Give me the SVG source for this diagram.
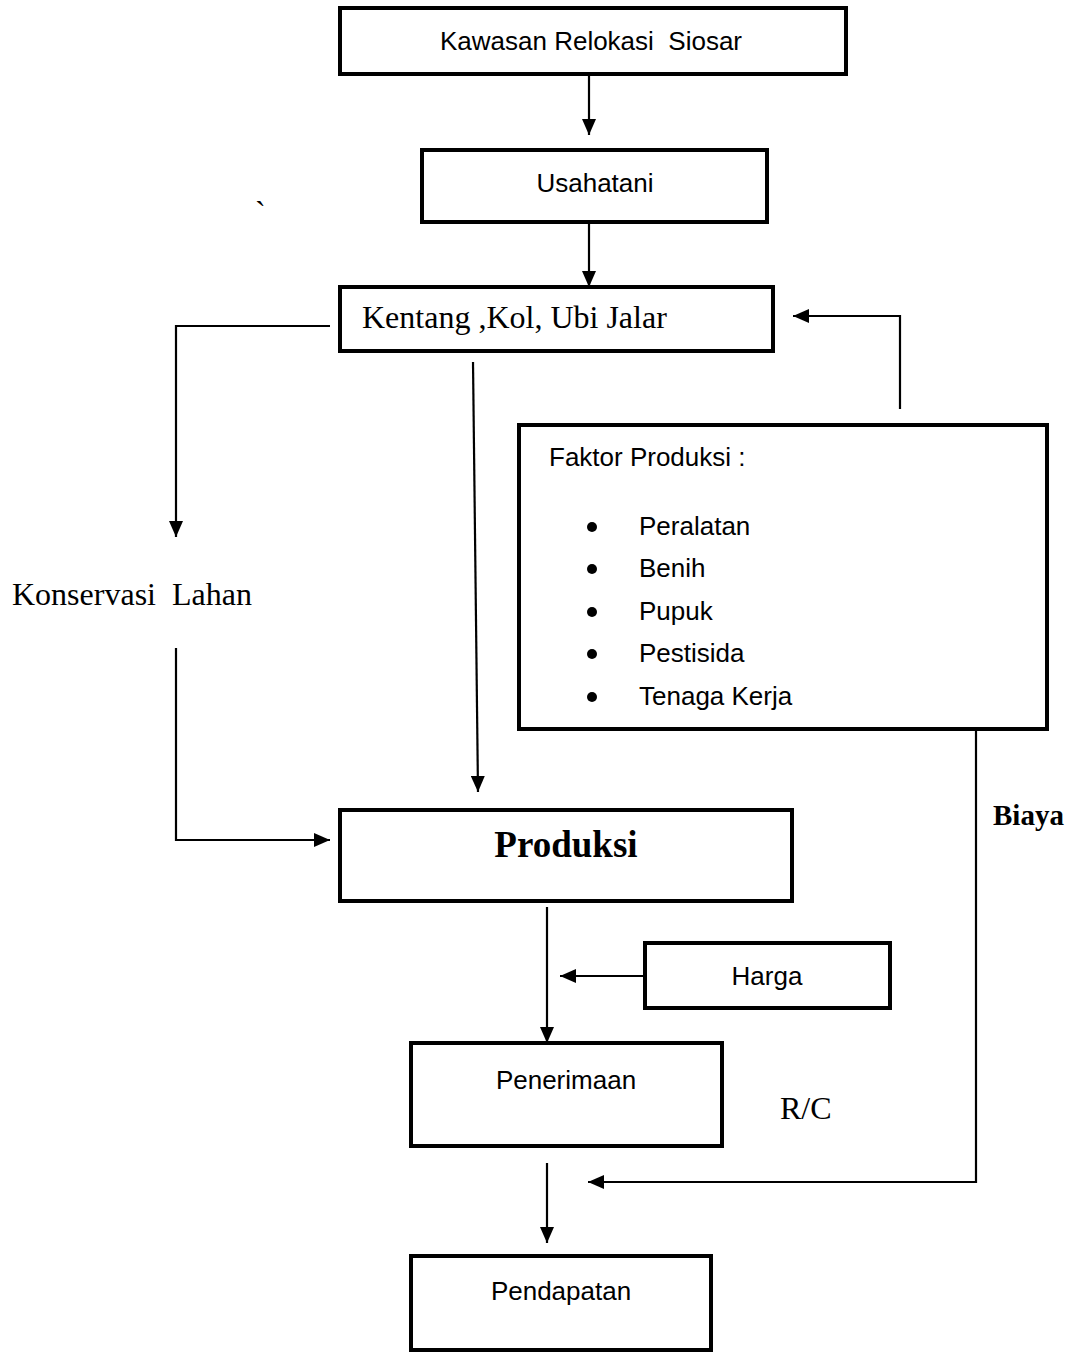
<svg xmlns="http://www.w3.org/2000/svg" width="1074" height="1352" viewBox="0 0 1074 1352">
<style>
.box{fill:#fff;stroke:#000;stroke-width:4;}
.con{fill:none;stroke:#000;stroke-width:2.2;}
.sans{font-family:"Liberation Sans",Arial,sans-serif;font-size:26px;fill:#000;white-space:pre;}
.serif{font-family:"Liberation Serif","Times New Roman",serif;font-size:32px;fill:#000;white-space:pre;}
.bold{font-family:"Liberation Serif","Times New Roman",serif;font-weight:bold;fill:#000;}
</style>
<defs>
<marker id="ah" viewBox="0 0 16 14" refX="16" refY="7" markerWidth="16" markerHeight="14" markerUnits="userSpaceOnUse" orient="auto">
<path d="M0,0 L16,7 L0,14 z" fill="#000"/>
</marker>
</defs>
<rect width="1074" height="1352" fill="#fff"/>
<g id="connectors">
<path class="con" d="M589,74 V135" marker-end="url(#ah)"/>
<path class="con" d="M589,222 V287" marker-end="url(#ah)"/>
<path class="con" d="M330,326 H176 V537" marker-end="url(#ah)"/>
<path class="con" d="M176,648 V840 H330" marker-end="url(#ah)"/>
<path class="con" d="M473,362 L478,792" marker-end="url(#ah)"/>
<path class="con" d="M900,409 V316 H793" marker-end="url(#ah)"/>
<path class="con" d="M547,907 V1043" marker-end="url(#ah)"/>
<path class="con" d="M645,976 H560" marker-end="url(#ah)"/>
<path class="con" d="M547,1163 V1243" marker-end="url(#ah)"/>
<path class="con" d="M976,729 V1182 H588" marker-end="url(#ah)"/>
</g>
<g id="kawasan">
<rect class="box" x="340" y="8" width="506" height="66"/>
<text class="sans" x="591" y="50" text-anchor="middle" xml:space="preserve">Kawasan Relokasi  Siosar</text>
</g>
<g id="usahatani">
<rect class="box" x="422" y="150" width="345" height="72"/>
<text class="sans" x="595" y="192" text-anchor="middle">Usahatani</text>
</g>
<text class="serif" x="255" y="223" font-size="20">`</text>
<g id="kentang">
<rect class="box" x="340" y="287" width="433" height="64"/>
<text class="serif" x="362" y="328">Kentang ,Kol, Ubi Jalar</text>
</g>
<g id="konservasi">
<text class="serif" x="12" y="605" xml:space="preserve">Konservasi  Lahan</text>
</g>
<g id="faktor">
<rect class="box" x="519" y="425" width="528" height="304"/>
<text class="sans" x="549" y="466" font-size="25">Faktor Produksi :</text>
<circle cx="592" cy="527" r="5"/>
<circle cx="592" cy="569" r="5"/>
<circle cx="592" cy="612" r="5"/>
<circle cx="592" cy="654" r="5"/>
<circle cx="592" cy="697" r="5"/>
<text class="sans" x="639" y="535">Peralatan</text>
<text class="sans" x="639" y="577">Benih</text>
<text class="sans" x="639" y="620">Pupuk</text>
<text class="sans" x="639" y="662">Pestisida</text>
<text class="sans" x="639" y="705">Tenaga Kerja</text>
</g>
<g id="biaya">
<text class="bold" x="993" y="825" font-size="29">Biaya</text>
</g>
<g id="produksi">
<rect class="box" x="340" y="810" width="452" height="91"/>
<text class="bold" x="566" y="857" font-size="37" text-anchor="middle">Produksi</text>
</g>
<g id="harga">
<rect class="box" x="645" y="943" width="245" height="65"/>
<text class="sans" x="767" y="985" text-anchor="middle">Harga</text>
</g>
<g id="penerimaan">
<rect class="box" x="411" y="1043" width="311" height="103"/>
<text class="sans" x="566" y="1089" text-anchor="middle">Penerimaan</text>
</g>
<g id="rc">
<text class="serif" x="780" y="1119" font-size="31">R/C</text>
</g>
<g id="pendapatan">
<rect class="box" x="411" y="1256" width="300" height="94"/>
<text class="sans" x="561" y="1300" text-anchor="middle">Pendapatan</text>
</g>
</svg>
